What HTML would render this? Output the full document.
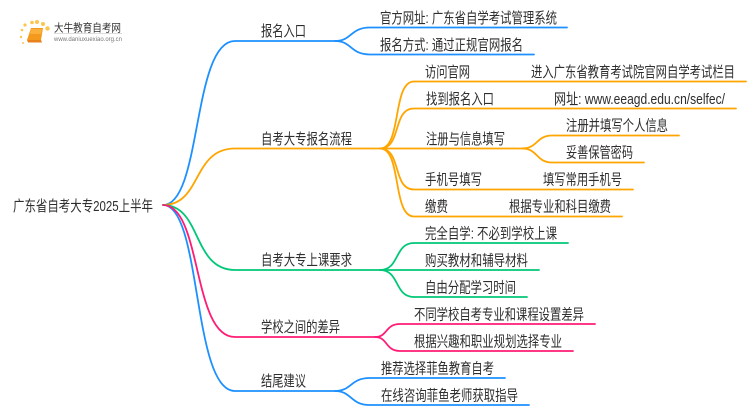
<!DOCTYPE html>
<html><head><meta charset="utf-8"><style>
html,body{margin:0;padding:0;background:#fff;width:750px;height:410px;overflow:hidden}
svg{display:block}
text{font-family:"Liberation Sans","Noto Sans CJK SC",sans-serif;font-size:15px;fill:#2e2e2e}
path{fill:none;stroke-width:1.8;stroke-linecap:round}
.b path{stroke:#1E90FF}.o path{stroke:#FFA500}.g path{stroke:#00C878}.p path{stroke:#FF1A75}
</style></head><body>
<svg width="750" height="410" viewBox="0 0 750 410" xmlns="http://www.w3.org/2000/svg">
<defs><filter id="s" x="-5%" y="-5%" width="110%" height="110%"><feGaussianBlur stdDeviation="0.35"/></filter></defs>
<g filter="url(#s)">
<g class="b">
<path d="M163 205C202 205 192 41 235 41H335" />
<path d="M335 41C352 41 350 27.500 370 27.500H567"/>
<path d="M335 41C352 41 350 54.500 370 54.500H534"/>
<path d="M163 205C202 205 192 391 235 391H335"/>
<path d="M335 391C352 391 350 378 370 378H505"/>
<path d="M335 391C352 391 350 405 370 405H529"/>
</g>
<g class="o">
<path d="M163 205C202 205 192 148.500 235 148.500H380"/>
<path d="M380 148.500C402 148.500 392 81.500 414 81.500H746"/>
<path d="M380 148.500C402 148.500 392 108.500 414 108.500H736"/>
<path d="M380 148.500H522"/>
<path d="M522 148.500C538 148.500 536 135.500 552 135.500H679"/>
<path d="M522 148.500C538 148.500 536 162.500 552 162.500H644"/>
<path d="M380 148.500C402 148.500 392 189.500 414 189.500H633"/>
<path d="M380 148.500C402 148.500 392 216.500 414 216.500H622"/>
</g>
<g class="g">
<path d="M163 205C202 205 192 270 235 270H380"/>
<path d="M380 270C400 270 394 243 414 243H568"/>
<path d="M380 270H539"/>
<path d="M380 270C400 270 394 297 414 297H527"/>
</g>
<g class="p">
<path d="M163 205C202 205 192 337 235 337H375"/>
<path d="M375 337C388 337 385 324 400 324H595"/>
<path d="M375 337C388 337 385 351 400 351H573"/>
</g>
<g>
<text x="13" y="211" textLength="140" lengthAdjust="spacingAndGlyphs">广东省自考大专2025上半年</text>
<text x="261" y="36" textLength="45" lengthAdjust="spacingAndGlyphs">报名入口</text>
<text x="261" y="144" textLength="91" lengthAdjust="spacingAndGlyphs">自考大专报名流程</text>
<text x="261" y="265" textLength="91" lengthAdjust="spacingAndGlyphs">自考大专上课要求</text>
<text x="261" y="332" textLength="79" lengthAdjust="spacingAndGlyphs">学校之间的差异</text>
<text x="261" y="386" textLength="45" lengthAdjust="spacingAndGlyphs">结尾建议</text>
<text x="380" y="23" textLength="177" lengthAdjust="spacingAndGlyphs">官方网址: 广东省自学考试管理系统</text>
<text x="380" y="50" textLength="143" lengthAdjust="spacingAndGlyphs">报名方式: 通过正规官网报名</text>
<text x="425" y="77" textLength="45" lengthAdjust="spacingAndGlyphs">访问官网</text>
<text x="531" y="77" textLength="204" lengthAdjust="spacingAndGlyphs">进入广东省教育考试院官网自学考试栏目</text>
<text x="426" y="104" textLength="68" lengthAdjust="spacingAndGlyphs">找到报名入口</text>
<text x="554" y="104" textLength="171" lengthAdjust="spacingAndGlyphs">网址: www.eeagd.edu.cn/selfec/</text>
<text x="426" y="144" textLength="79" lengthAdjust="spacingAndGlyphs">注册与信息填写</text>
<text x="566" y="130.500" textLength="102" lengthAdjust="spacingAndGlyphs">注册并填写个人信息</text>
<text x="566" y="157.500" textLength="67" lengthAdjust="spacingAndGlyphs">妥善保管密码</text>
<text x="425" y="184.500" textLength="57" lengthAdjust="spacingAndGlyphs">手机号填写</text>
<text x="543" y="184.500" textLength="79" lengthAdjust="spacingAndGlyphs">填写常用手机号</text>
<text x="425" y="211.500" textLength="23" lengthAdjust="spacingAndGlyphs">缴费</text>
<text x="509" y="211.500" textLength="102" lengthAdjust="spacingAndGlyphs">根据专业和科目缴费</text>
<text x="425" y="238.500" textLength="132" lengthAdjust="spacingAndGlyphs">完全自学: 不必到学校上课</text>
<text x="425" y="265.500" textLength="103" lengthAdjust="spacingAndGlyphs">购买教材和辅导材料</text>
<text x="425" y="292.500" textLength="91" lengthAdjust="spacingAndGlyphs">自由分配学习时间</text>
<text x="414" y="319.500" textLength="170" lengthAdjust="spacingAndGlyphs">不同学校自考专业和课程设置差异</text>
<text x="414" y="346.500" textLength="148" lengthAdjust="spacingAndGlyphs">根据兴趣和职业规划选择专业</text>
<text x="381" y="373.500" textLength="113" lengthAdjust="spacingAndGlyphs">推荐选择菲鱼教育自考</text>
<text x="381" y="400.500" textLength="137" lengthAdjust="spacingAndGlyphs">在线咨询菲鱼老师获取指导</text>
</g>
<g fill="#FBC64B">
<circle cx="25" cy="25" r="1.600"/><circle cx="32" cy="22.500" r="1.800"/><circle cx="37" cy="22" r="2"/><circle cx="43" cy="24" r="2"/><circle cx="47.500" cy="28.500" r="2.200"/><circle cx="22" cy="30" r="1.300"/><circle cx="21" cy="37" r="1.200"/><circle cx="23" cy="43" r="1"/>
</g>
<polygon points="31,28 43,28 41,40 27,40" fill="#F39A1E"/>
<polygon points="31,29 42,29 41,34 30,34" fill="#FBB03B"/>
<polygon points="27,40 41,40 42,42.500 28,42.500" fill="#E8801A"/>
<text x="54" y="31.500" textLength="67" lengthAdjust="spacingAndGlyphs" style="font-size:11px;fill:#333">大牛教育自考网</text>
<rect x="54" y="33" width="68" height="1" fill="#ddd"/>
<text x="54" y="41" textLength="68" lengthAdjust="spacingAndGlyphs" style="font-size:6.500px;fill:#777">www.daniuxuexiao.org.cn</text>
</g>
</svg>
</body></html>
